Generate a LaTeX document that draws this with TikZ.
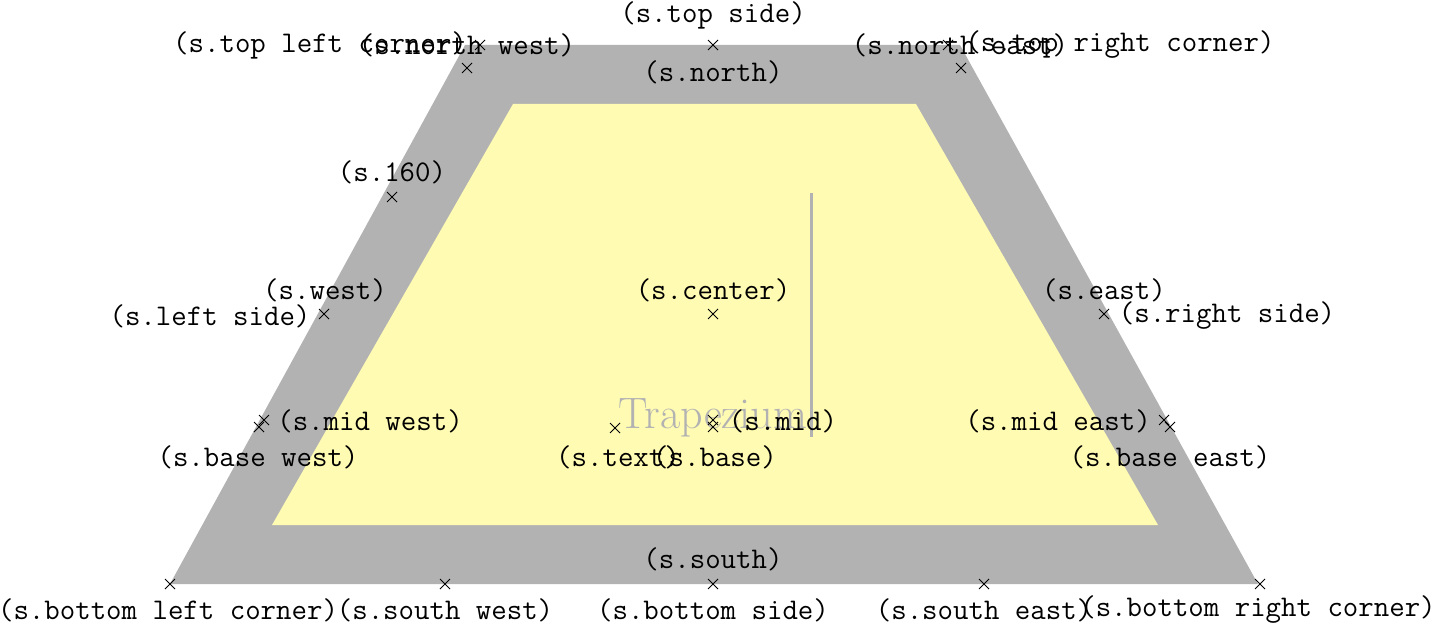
\documentclass[tikz,border=0pt]{standalone}
\usetikzlibrary{shapes.misc}
\begin{document}
\begin{tikzpicture}[x=0.5pt,y=-0.5pt,
  mk/.style={draw,cross out,minimum size=4.5pt,inner sep=0pt,line width=0.5pt},
  lb/.style={font=\fontsize{15}{17}\ttfamily,inner sep=0pt}]
\useasboundingbox (0,0) rectangle (1438,631);
\fill[black!30] (465,45) -- (960,45) -- (1258,584) -- (170,584) -- cycle;
\fill[yellow!30] (513,104) -- (916,104) -- (1158,525) -- (272,525) -- cycle;
\node[text=black!30,font=\fontsize{22}{26}\selectfont,inner sep=0pt] (t) at (713,418) {Trapezium};
\coordinate (vt) at (811,193); \coordinate (vb) at (811,437);
\draw[black!30,line width=1.5pt] (vt) -- (vb);
\foreach \n/\x/\y in {tlc/467/68,nw/480/45,ts/713/45,ne/948/45,trc/961/68,a160/392/197,w/324/314,c/713/314,e/1104/314,mw/264/420,bw/259/427,m/713/420,b/713/427,tx/615/428,me/1164/420,be/1170/427,s/713/584,blc/170/584,sw/445/584,se/984/584,brc/1260/584}
  \node[mk] (\n) at (\x,\y) {};
\foreach \n/\x/\y/\t in {l1/713/15/top side,l2/320/45/top left corner,l3/467/45/north west,l4/960/45/north east,l5/1120/45/top right corner,l6/713/72/north,l7/392/172/160,l8/325/290/west,l9/210/316/left side,l10/713/290/center,l11/1104/290/east,l12/1227/316/right side,l13/370/421/mid west,l14/258/457/base west,l15/783/421/mid,l16/618/457/text,l17/715/457/base,l18/1058/421/mid east,l19/1170/457/base east,l20/713/559/south,l21/168/610/bottom left corner,l22/445/610/south west,l23/713/610/bottom side,l24/984/610/south east,l25/1258/610/bottom right corner}
  \node[lb] (\n) at (\x,\y) {(s.\t)};
\end{tikzpicture}
\end{document}
